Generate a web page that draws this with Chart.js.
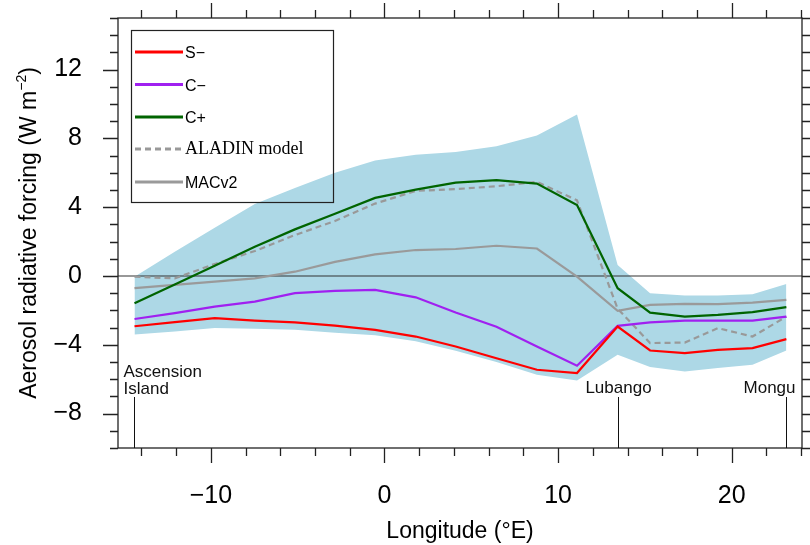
<!DOCTYPE html>
<html lang="en">
<head>
<meta charset="UTF-8">
<title>Aerosol radiative forcing</title>
<script src="https://cdn.jsdelivr.net/npm/chart.js"></script>
<style>
  body { margin: 0; background: #fff; }
  #wrap { width: 810px; height: 545px; }
</style>
</head>
<body>
<div id="wrap"><canvas id="forcing" width="810" height="545"></canvas></div>
<script>
// values (longitude in degrees E, forcing in W m-2)
const longitudes = [-14.4, -12.08, -9.78, -7.47, -5.16, -2.85, -0.54, 1.8, 4.1, 6.45, 8.78, 11.09, 13.43, 15.3, 17.3, 19.2, 21.2, 23.15];
const sMinus = [-2.92, -2.68, -2.45, -2.59, -2.7, -2.88, -3.13, -3.52, -4.1, -4.78, -5.45, -5.64, -2.94, -4.33, -4.48, -4.29, -4.19, -3.67];
const cMinus = [-2.5, -2.16, -1.78, -1.49, -1.0, -0.86, -0.81, -1.24, -2.12, -2.95, -4.1, -5.22, -2.9, -2.7, -2.59, -2.59, -2.59, -2.36];
const cPlus = [-1.58, -0.5, 0.6, 1.7, 2.71, 3.62, 4.54, 5.02, 5.43, 5.57, 5.37, 4.12, -0.71, -2.13, -2.36, -2.26, -2.1, -1.81];
const aladin = [-0.04, -0.14, 0.7, 1.45, 2.38, 3.2, 4.21, 4.95, 5.05, 5.22, 5.47, 4.4, -1.9, -3.9, -3.87, -3.03, -3.52, -2.36];
const macv2 = [-0.71, -0.52, -0.33, -0.14, 0.25, 0.82, 1.26, 1.51, 1.57, 1.76, 1.6, -0.04, -2.03, -1.68, -1.62, -1.64, -1.55, -1.39];
const bandUpper = [-0.05, 1.41, 2.8, 4.19, 5.11, 6.0, 6.72, 7.05, 7.21, 7.54, 8.17, 9.39, 0.64, -1.0, -1.14, -1.14, -1.06, -0.46];
const bandLower = [-3.4, -3.23, -3.03, -3.07, -3.13, -3.3, -3.45, -3.8, -4.35, -5.0, -5.74, -6.07, -4.58, -5.29, -5.55, -5.35, -5.16, -4.33];

const xMajorTicks = [-10, 0, 10, 20];
const xMinorTicks = [-14, -12, -10, -8, -6, -4, -2, 0, 2, 4, 6, 8, 10, 12, 14, 16, 18, 20, 22, 24];
const yMajorTicks = [-8, -4, 0, 4, 8, 12];
const yMinorTicks = [-10, -9, -8, -7, -6, -5, -4, -3, -2, -1, 0, 1, 2, 3, 4, 5, 6, 7, 8, 9, 10, 11, 12, 13, 14, 15];

const stationNames = [['Ascension', 'Island'], ['Lubango'], ['Mongu']];
const stationLon = [-14.4, 13.43, 23.15];

const legendLabels = ['S\u2212', 'C\u2212', 'C+', 'ALADIN model', 'MACv2'];

const SANS = "'Liberation Sans', Arial, Helvetica, sans-serif";
const SERIF = "'Liberation Serif', 'Times New Roman', serif";

function pts(arr) {
    return longitudes.map((x, i) => ({ x: x, y: arr[i] }));
}
function fmt(v) {
    return v < 0 ? '\u2212' + Math.abs(v) : String(v);
}

// frame, ticks, zero line, stations, legend, axis titles
const decorations = {
    id: 'decorations',
    afterDatasetDraw(chart, args) {
        // zero line goes just above the shaded band
        if (args.index !== 6) return;
        const { ctx, chartArea: a, scales: { y } } = chart;
        const y0 = y.getPixelForValue(0);
        ctx.save();
        ctx.strokeStyle = '#333';
        ctx.lineWidth = 1.2;
        ctx.beginPath();
        ctx.moveTo(a.left, y0);
        ctx.lineTo(a.right, y0);
        ctx.stroke();
        ctx.restore();
    },
    afterDraw(chart) {
        const { ctx, chartArea: a, scales: { x, y } } = chart;
        ctx.save();
        ctx.strokeStyle = '#222';
        ctx.lineWidth = 1.3;
        ctx.strokeRect(a.left, a.top, a.right - a.left, a.bottom - a.top);

        // ticks pointing outward on all four sides
        ctx.beginPath();
        xMinorTicks.forEach(v => {
            const px = Math.round(x.getPixelForValue(v)) + 0.5;
            const len = xMajorTicks.includes(v) ? 15 : 8;
            ctx.moveTo(px, a.bottom); ctx.lineTo(px, a.bottom + len);
            ctx.moveTo(px, a.top); ctx.lineTo(px, a.top - len);
        });
        yMinorTicks.forEach(v => {
            const py = Math.round(y.getPixelForValue(v)) + 0.5;
            const len = yMajorTicks.includes(v) ? 15 : 8;
            ctx.moveTo(a.left, py); ctx.lineTo(a.left - len, py);
            ctx.moveTo(a.right, py); ctx.lineTo(a.right + 8, py);
        });
        ctx.stroke();

        // station markers
        ctx.strokeStyle = '#111';
        ctx.lineWidth = 1;
        ctx.fillStyle = '#111';
        ctx.font = '17px ' + SANS;
        stationLon.forEach((lon, i) => {
            const px = Math.round(x.getPixelForValue(lon)) + 0.5;
            ctx.beginPath();
            ctx.moveTo(px, a.bottom);
            ctx.lineTo(px, 397);
            ctx.stroke();
            const lines = stationNames[i];
            if (i === 0) {
                ctx.textAlign = 'left';
                ctx.fillText(lines[0], px - 11, 377);
                ctx.fillText(lines[1], px - 11, 394);
            } else if (i === stationLon.length - 1) {
                ctx.textAlign = 'right';
                ctx.fillText(lines[0], px + 9, 393);
            } else {
                ctx.textAlign = 'center';
                ctx.fillText(lines[0], px, 393);
            }
        });

        // legend box
        ctx.strokeStyle = '#222';
        ctx.lineWidth = 1.2;
        ctx.strokeRect(131.5, 30.5, 202, 172);
        const rows = [52, 84.5, 117, 149, 182];
        const legendSets = [0, 1, 2, 3, 4];
        ctx.textAlign = 'left';
        legendSets.forEach((di, i) => {
            const ds = chart.data.datasets[di];
            ctx.save();
            ctx.strokeStyle = ds.borderColor;
            ctx.lineWidth = 3;
            ctx.setLineDash(ds.borderDash || []);
            ctx.beginPath();
            ctx.moveTo(135, rows[i]);
            ctx.lineTo(183, rows[i]);
            ctx.stroke();
            ctx.restore();
            ctx.fillStyle = '#000';
            if (i === 3) {
                ctx.font = '18px ' + SERIF;
                ctx.fillText(legendLabels[i], 185, rows[i] + 5);
            } else {
                ctx.font = '16px ' + SANS;
                ctx.fillText(legendLabels[i], 185, rows[i] + 6);
            }
        });

        // x title
        ctx.fillStyle = '#000';
        ctx.textAlign = 'center';
        ctx.font = '23px ' + SANS;
        ctx.fillText('Longitude (\u00b0E)', (a.left + a.right) / 2, 538);

        // y title with superscript
        ctx.translate(36, (a.top + a.bottom) / 2);
        ctx.rotate(-Math.PI / 2);
        const main = 'Aerosol radiative forcing (W m';
        const sup = '\u22122';
        const tail = ')';
        ctx.font = '23px ' + SANS;
        const wMain = ctx.measureText(main).width;
        const wTail = ctx.measureText(tail).width;
        ctx.font = '14px ' + SANS;
        const wSup = ctx.measureText(sup).width;
        let sx = -(wMain + wSup + wTail) / 2;
        ctx.textAlign = 'left';
        ctx.font = '23px ' + SANS;
        ctx.fillText(main, sx, 0);
        sx += wMain;
        ctx.font = '14px ' + SANS;
        ctx.fillText(sup, sx, -10);
        sx += wSup;
        ctx.font = '23px ' + SANS;
        ctx.fillText(tail, sx, 0);
        ctx.restore();
    }
};

const lineStyle = { pointRadius: 0, borderWidth: 2.2, tension: 0, fill: false };
// invisible grid ticks only used to push the tick labels away from the frame
const hiddenGrid = len => ({ display: true, drawOnChartArea: false, drawTicks: true, tickLength: len, color: 'rgba(0,0,0,0)' });

new Chart(document.getElementById('forcing'), {
    type: 'line',
    data: {
        datasets: [
            { ...lineStyle, label: legendLabels[0], data: pts(sMinus), borderColor: '#ff0000' },
            { ...lineStyle, label: legendLabels[1], data: pts(cMinus), borderColor: '#a020f0' },
            { ...lineStyle, label: legendLabels[2], data: pts(cPlus), borderColor: '#006400' },
            { ...lineStyle, label: legendLabels[3], data: pts(aladin), borderColor: '#999999', borderDash: [6, 4] },
            { ...lineStyle, label: legendLabels[4], data: pts(macv2), borderColor: '#9a9a9a' },
            { label: 'range low', data: pts(bandLower), pointRadius: 0, borderWidth: 0, borderColor: 'rgba(0,0,0,0)', fill: false, order: 10 },
            { label: 'range high', data: pts(bandUpper), pointRadius: 0, borderWidth: 0, borderColor: 'rgba(0,0,0,0)', backgroundColor: '#add8e6', fill: '-1', order: 10 }
        ]
    },
    options: {
        responsive: false,
        animation: false,
        layout: { padding: { top: 18, right: 8, left: 0, bottom: 0 } },
        plugins: {
            legend: { display: false },
            tooltip: { enabled: false }
        },
        scales: {
            x: {
                type: 'linear',
                min: -15.35,
                max: 24.05,
                afterBuildTicks: s => { s.ticks = xMajorTicks.map(v => ({ value: v })); },
                afterFit: s => { s.height = 97; },
                grid: hiddenGrid(33),
                border: { display: false },
                ticks: { font: { family: SANS, size: 25 }, color: '#000', padding: 0, maxRotation: 0, autoSkip: false, callback: fmt }
            },
            y: {
                min: -10,
                max: 15,
                afterBuildTicks: s => { s.ticks = yMajorTicks.map(v => ({ value: v })); },
                afterFit: s => { s.width = 118; },
                grid: hiddenGrid(36),
                border: { display: false },
                ticks: { font: { family: SANS, size: 25 }, color: '#000', padding: 0, autoSkip: false, callback: fmt }
            }
        }
    },
    plugins: [decorations]
});
</script>
</body>
</html>
